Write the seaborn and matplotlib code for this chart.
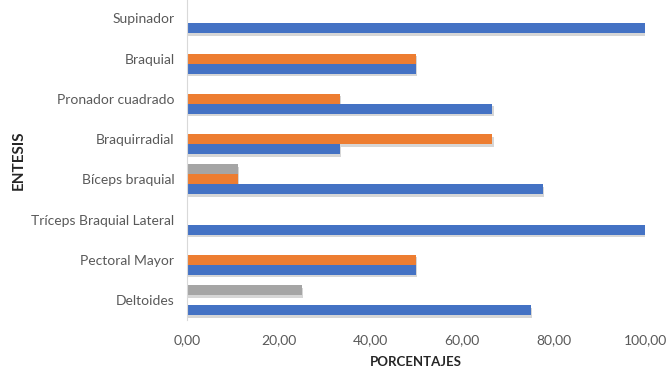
import numpy as np
import pandas as pd
import matplotlib
matplotlib.use("Agg")
import matplotlib.pyplot as plt
import matplotlib.patheffects as pe
import seaborn as sns

# Muscles (top to bottom) and the percentage per series
categorias = ["Supinador", "Braquial", "Pronador cuadrado", "Braquirradial",
              "Bíceps braquial", "Tríceps Braquial Lateral", "Pectoral Mayor", "Deltoides"]
serie1 = [100.00, 50.00, 66.67, 33.33, 77.78, 100.00, 50.00, 75.00]
serie2 = [np.nan, 50.00, 33.33, 66.67, 11.11, np.nan, 50.00, np.nan]
serie3 = [np.nan, np.nan, np.nan, np.nan, 11.11, np.nan, np.nan, 25.00]
xticks = [0, 20, 40, 60, 80, 100]

series = {"Serie1": serie1, "Serie2": serie2, "Serie3": serie3}
colores = {"Serie1": "#4472C4", "Serie2": "#ED7D31", "Serie3": "#A5A5A5"}

rows = []
for nombre, valores in series.items():
    for cat, v in zip(categorias, valores):
        rows.append({"ENTESIS": cat, "PORCENTAJES": v, "serie": nombre})
df = pd.DataFrame(rows)

sns.set_style("white")
plt.rcParams["font.family"] = ["Lato", "DejaVu Sans"]

fig = plt.figure(figsize=(6.70, 3.72), dpi=100)
ax = fig.add_axes([0.279, 0.139, 0.684, 0.866])

sns.barplot(data=df, y="ENTESIS", x="PORCENTAJES", hue="serie",
            order=categorias, hue_order=["Serie3", "Serie2", "Serie1"],
            palette=colores, orient="h", width=0.75, saturation=1,
            linewidth=0, legend=False, ax=ax)

# soft drop shadow under each bar
for p in ax.patches:
    p.set_path_effects([pe.SimplePatchShadow(offset=(0.8, -1.8), shadow_rgbFace="#8c8c8c", alpha=0.35),
                        pe.Normal()])

ax.set_xlim(0, 100)
ax.set_ylim(7.5, -0.5)
ax.set_xticks(xticks)
ax.set_xticklabels([f"{t:.2f}".replace(".", ",") for t in xticks])
ax.tick_params(axis="both", length=0, colors="#595959", labelsize=10)
ax.tick_params(axis="y", pad=9)
ax.tick_params(axis="x", pad=10)

for side in ["top", "right", "bottom"]:
    ax.spines[side].set_visible(False)
ax.spines["left"].set_color("#d9d9d9")
ax.spines["left"].set_linewidth(0.8)

ax.set_xlabel("PORCENTAJES", fontsize=9.5, fontweight="bold", color="#262626", labelpad=7)
ax.set_ylabel("")
fig.text(0.028, 0.57, "ENTESIS", rotation=90, ha="center", va="center",
         fontsize=11, fontweight="bold", color="#262626")

fig.savefig("out.png", dpi=100)
